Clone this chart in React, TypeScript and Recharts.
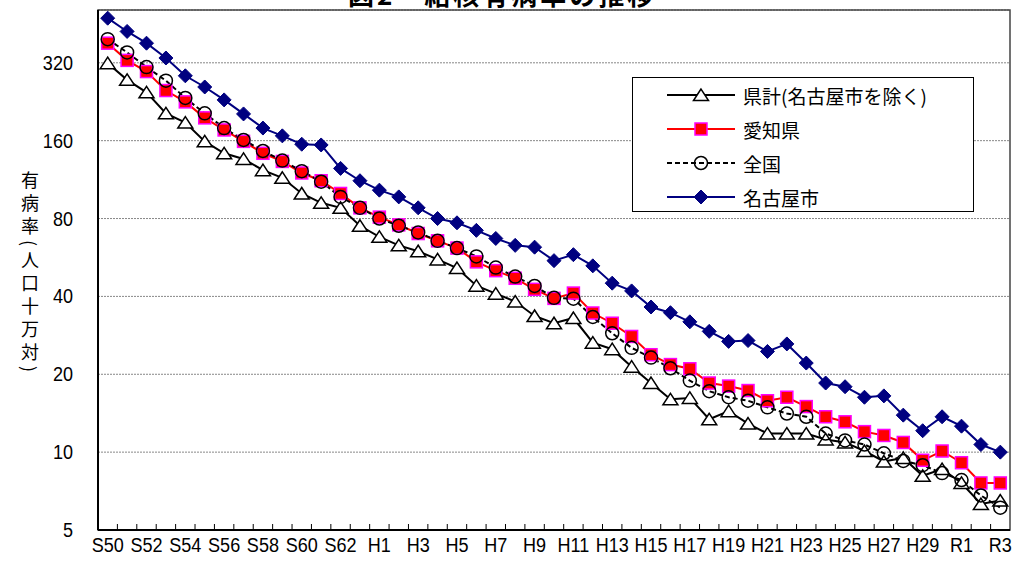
import { LineChart, Line, XAxis, YAxis, CartesianGrid, Legend, ReferenceArea } from 'recharts'

const years = [
  'S50', 'S51', 'S52', 'S53', 'S54', 'S55', 'S56', 'S57', 'S58', 'S59', 'S60', 'S61', 'S62', 'S63',
  'H1', 'H2', 'H3', 'H4', 'H5', 'H6', 'H7', 'H8', 'H9', 'H10', 'H11', 'H12', 'H13', 'H14', 'H15',
  'H16', 'H17', 'H18', 'H19', 'H20', 'H21', 'H22', 'H23', 'H24', 'H25', 'H26', 'H27', 'H28', 'H29',
  'H30', 'R1', 'R2', 'R3',
]

// 県計(名古屋市を除く)
const kenkei = [
  319, 275, 246, 204, 188, 159, 143, 136, 123, 115, 100, 92, 88, 75,
  68, 63, 59.8, 55.6, 51.5, 44, 41, 38.2, 33.6, 31.5, 33, 26.5, 25, 21.4, 18.5,
  16, 16.2, 13.4, 14.4, 12.9, 11.8, 11.8, 11.8, 11.2, 10.9, 10.1, 9.2, 9.5, 8.1,
  8.6, 7.6, 6.3, 6.5,
]
// 愛知県
const aichi = [
  381, 327, 296, 250, 226, 196, 176, 159, 143, 133, 120, 112, 100, 88,
  81, 75.6, 70, 65.6, 61.5, 54.4, 50.3, 47, 42.6, 39.3, 41.2, 34.5, 31.5, 28, 23.8,
  21.8, 21, 18.5, 18, 17.3, 15.8, 16.3, 15, 13.7, 13.1, 12, 11.6, 10.9, 9.3,
  10.1, 9.1, 7.6, 7.6,
]
// 全国
const zenkoku = [
  395, 351, 308, 273, 234, 204, 179, 161, 146, 134, 122, 111, 97, 88,
  80, 75, 70.7, 65.6, 61.5, 57.1, 51.7, 47.7, 43.9, 39.5, 39.2, 33.3, 28.8, 25.3, 23.2,
  21.1, 18.9, 17.2, 16.3, 15.8, 14.9, 14.1, 13.7, 11.8, 11.1, 10.7, 9.9, 9.25, 8.9,
  8.3, 7.8, 6.8, 6.1,
]
// 名古屋市
const nagoya = [
  476, 423, 381, 334, 285, 258, 230, 203, 179, 167, 155, 154, 125, 112,
  103, 97, 88, 80, 77, 72, 67, 63, 62, 55, 58, 52.5, 45, 42, 36.4,
  34.6, 31.9, 29.3, 26.8, 27, 24.5, 26.2, 22.1, 18.5, 17.9, 16.3, 16.5, 13.9, 12.1,
  13.7, 12.6, 10.7, 10,
]

const yTicks = [5, 10, 20, 40, 80, 160, 320]

const data = years.map((year, i) => ({
  year,
  x: i + 0.5,
  kenkei: kenkei[i],
  aichi: aichi[i],
  zenkoku: zenkoku[i],
  nagoya: nagoya[i],
}))

// tick marks at category boundaries, labels on every other category
const xTicks = [
  ...years.map((_, i) => i).filter((i) => i > 0),
  ...years.map((_, i) => i + 0.5).filter((_, i) => i % 2 === 0),
].sort((a, b) => a - b)

const tickFont = "'Liberation Sans', Arial, sans-serif"
const jpFont = "'Noto Sans CJK JP', sans-serif"

// narrow-ish gothic labels like the original
function XTick(props: any) {
  const { x, y, payload } = props
  const v = payload.value
  if (Number.isInteger(v)) {
    return <line x1={x} x2={x} y1={y} y2={y - 6} stroke="#000" strokeWidth={1} />
  }
  return (
    <text
      transform={`translate(${x},${y + 22}) scale(0.86,1)`}
      textAnchor="middle"
      fontSize={21}
      fontFamily={tickFont}
      fill="#000"
    >
      {years[Math.round(v - 0.5)]}
    </text>
  )
}

function YTick(props: any) {
  const { x, y, payload } = props
  return (
    <text
      transform={`translate(${x},${y + 7}) scale(0.86,1)`}
      textAnchor="end"
      fontSize={21}
      fontFamily={tickFont}
      fill="#000"
    >
      {payload.value}
    </text>
  )
}

const Triangle = ({ cx, cy }: any) => (
  <polygon points={`${cx},${cy - 6} ${cx - 7.5},${cy + 5.5} ${cx + 7.5},${cy + 5.5}`} fill="#fff" stroke="#000" strokeWidth={1.5} />
)
const Square = ({ cx, cy }: any) => (
  <rect x={cx - 6} y={cy - 6} width={12} height={12} fill="#ff0000" stroke="#ff00ff" strokeWidth={1.5} />
)
const Circle = ({ cx, cy }: any) => <circle cx={cx} cy={cy} r={6.5} fill="none" stroke="#000" strokeWidth={1.5} />
const Diamond = ({ cx, cy }: any) => (
  <polygon points={`${cx},${cy - 7} ${cx + 7},${cy} ${cx},${cy + 7} ${cx - 7},${cy}`} fill="#000080" stroke="#000080" />
)

const series = [
  { key: 'kenkei', name: '県計(名古屋市を除く)', color: '#000', dash: undefined, Marker: Triangle },
  { key: 'aichi', name: '愛知県', color: '#ff0000', dash: undefined, Marker: Square },
  { key: 'zenkoku', name: '全国', color: '#000', dash: '5 3', Marker: Circle },
  { key: 'nagoya', name: '名古屋市', color: '#000080', dash: undefined, Marker: Diamond },
]

function LegendBox() {
  return (
    <div
      style={{
        width: 340,
        height: 133,
        border: '1px solid #000',
        background: '#fff',
        fontFamily: jpFont,
        fontSize: 19,
      }}
    >
      {series.map(({ key, name, color, dash, Marker }) => (
        <div key={key} style={{ height: 34, display: 'flex', alignItems: 'center' }}>
          <svg width={104} height={20} style={{ flex: 'none' }}>
            <line x1={34} x2={102} y1={10} y2={10} stroke={color} strokeWidth={2} strokeDasharray={dash} />
            <Marker cx={68} cy={10} />
          </svg>
          <span style={{ marginLeft: 6, lineHeight: 1 }}>{name}</span>
        </div>
      ))}
    </div>
  )
}

export default function App() {
  return (
    <div style={{ position: 'absolute', left: 0, top: 0, width: 1014, height: 563, background: '#fff', overflow: 'hidden' }}>
      <div
        style={{
          position: 'absolute',
          left: 348,
          top: -19,
          fontFamily: jpFont,
          fontWeight: 'bold',
          fontSize: 26,
          lineHeight: '26px',
          letterSpacing: 3,
          whiteSpace: 'nowrap',
        }}
      >
        図2　結核有病率の推移
      </div>
      <div
        style={{
          position: 'absolute',
          left: 21,
          top: 171,
          writingMode: 'vertical-rl',
          fontFamily: jpFont,
          fontSize: 18,
          letterSpacing: 5,
          lineHeight: 1,
        }}
      >
        有病率(人口十万対)
      </div>
      <LineChart width={1014} height={563} data={data} margin={{ top: 10, right: 4, bottom: 0, left: 0 }}>
        <CartesianGrid vertical={false} stroke="#888" strokeDasharray="2 1" />
        <ReferenceArea x1={0} x2={years.length} y1={5} y2={512} fill="none" stroke="#444" strokeWidth={1.5} ifOverflow="visible" />
        <XAxis
          dataKey="x"
          type="number"
          domain={[0, years.length]}
          ticks={xTicks}
          interval={0}
          tick={<XTick />}
          tickLine={false}
          tickSize={0}
          tickMargin={0}
          axisLine={{ stroke: '#000', strokeWidth: 2 }}
          height={33}
        />
        <YAxis
          type="number"
          scale="log"
          domain={[5, 512]}
          ticks={yTicks}
          allowDataOverflow
          width={98}
          tickLine={false}
          tickSize={0}
          tickMargin={25}
          axisLine={{ stroke: '#000', strokeWidth: 2 }}
          tick={<YTick />}
        />
        <Legend
          layout="vertical"
          align="center"
          verticalAlign="middle"
          wrapperStyle={{ left: 632, top: 77, width: 342 }}
          content={() => <LegendBox />}
        />
        {series.map(({ key, name, color, dash, Marker }) => (
          <Line
            key={key}
            dataKey={key}
            name={name}
            stroke={color}
            strokeWidth={2}
            strokeDasharray={dash}
            dot={(p: any) => <Marker key={`${key}-${p.index}`} cx={p.cx} cy={p.cy} />}
            activeDot={false}
            isAnimationActive={false}
          />
        ))}
      </LineChart>
    </div>
  )
}
